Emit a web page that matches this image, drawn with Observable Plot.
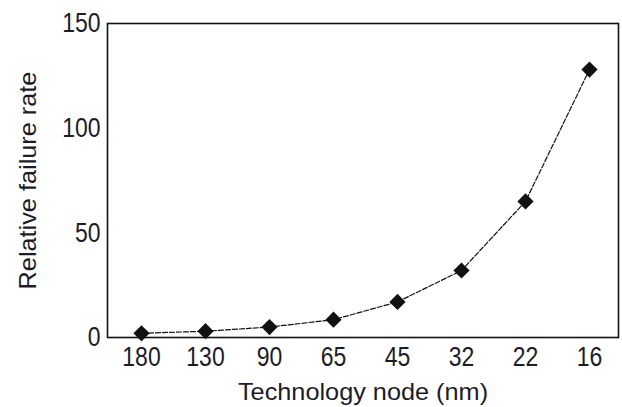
<!DOCTYPE html>
<html>
<head>
<meta charset="utf-8">
<script src="https://cdn.jsdelivr.net/npm/d3@7"></script>
<script src="https://cdn.jsdelivr.net/npm/@observablehq/plot@0.6"></script>
<style>
  html, body { margin: 0; padding: 0; background: #fff; }
  #chart svg { display: block; }
</style>
</head>
<body>
<div id="chart"></div>
<script>
const nodes = ["180", "130", "90", "65", "45", "32", "22", "16"];
const failureRate = [2, 3, 5, 8.5, 17, 32, 65, 128];
const yTicks = [0, 50, 100, 150];

const data = nodes.map((n, i) => ({node: n, rate: failureRate[i]}));

const chart = Plot.plot({
  width: 622,
  height: 407,
  marginLeft: 107,
  marginRight: 4,
  marginTop: 23,
  marginBottom: 70,
  style: {fontFamily: "'Liberation Sans', Arial, sans-serif", color: "#1c1c28", background: "#fff"},
  x: {type: "point", domain: nodes, range: [141, 589], padding: 0},
  y: {domain: [0, 150]},
  marks: [
    Plot.frame({stroke: "#111", strokeWidth: 1.6}),
    Plot.axisX({tickSize: 0, tickPadding: 9, fontSize: 23, label: "Technology node (nm)", labelAnchor: "center", labelOffset: 62, labelArrow: "none"}),
    Plot.axisY({ticks: yTicks, tickSize: 0, tickPadding: 7, fontSize: 23, label: "Relative failure rate", labelAnchor: "center", labelOffset: 88, labelArrow: "none"}),
    Plot.line(data, {x: "node", y: "rate", stroke: "#111", strokeWidth: 1.2, strokeDasharray: "5,2"}),
    Plot.dot(data, {x: "node", y: "rate", symbol: "diamond2", r: 7.3, fill: "#111", stroke: "none"})
  ]
});
// vertical stretch of tick labels, horizontal stretch of axis titles (as in the scanned reference)
chart.querySelectorAll("g[aria-label='x-axis tick label'] text, g[aria-label='y-axis tick label'] text").forEach(t => {
  t.setAttribute("transform", (t.getAttribute("transform") || "") + " scale(1,1.2)");
});
chart.querySelectorAll("g[aria-label='x-axis label'] text, g[aria-label='y-axis label'] text").forEach(t => {
  t.setAttribute("font-size", "23");
  t.setAttribute("transform", (t.getAttribute("transform") || "") + " scale(1.1,1)");
});
document.getElementById("chart").appendChild(chart);
</script>
</body>
</html>
